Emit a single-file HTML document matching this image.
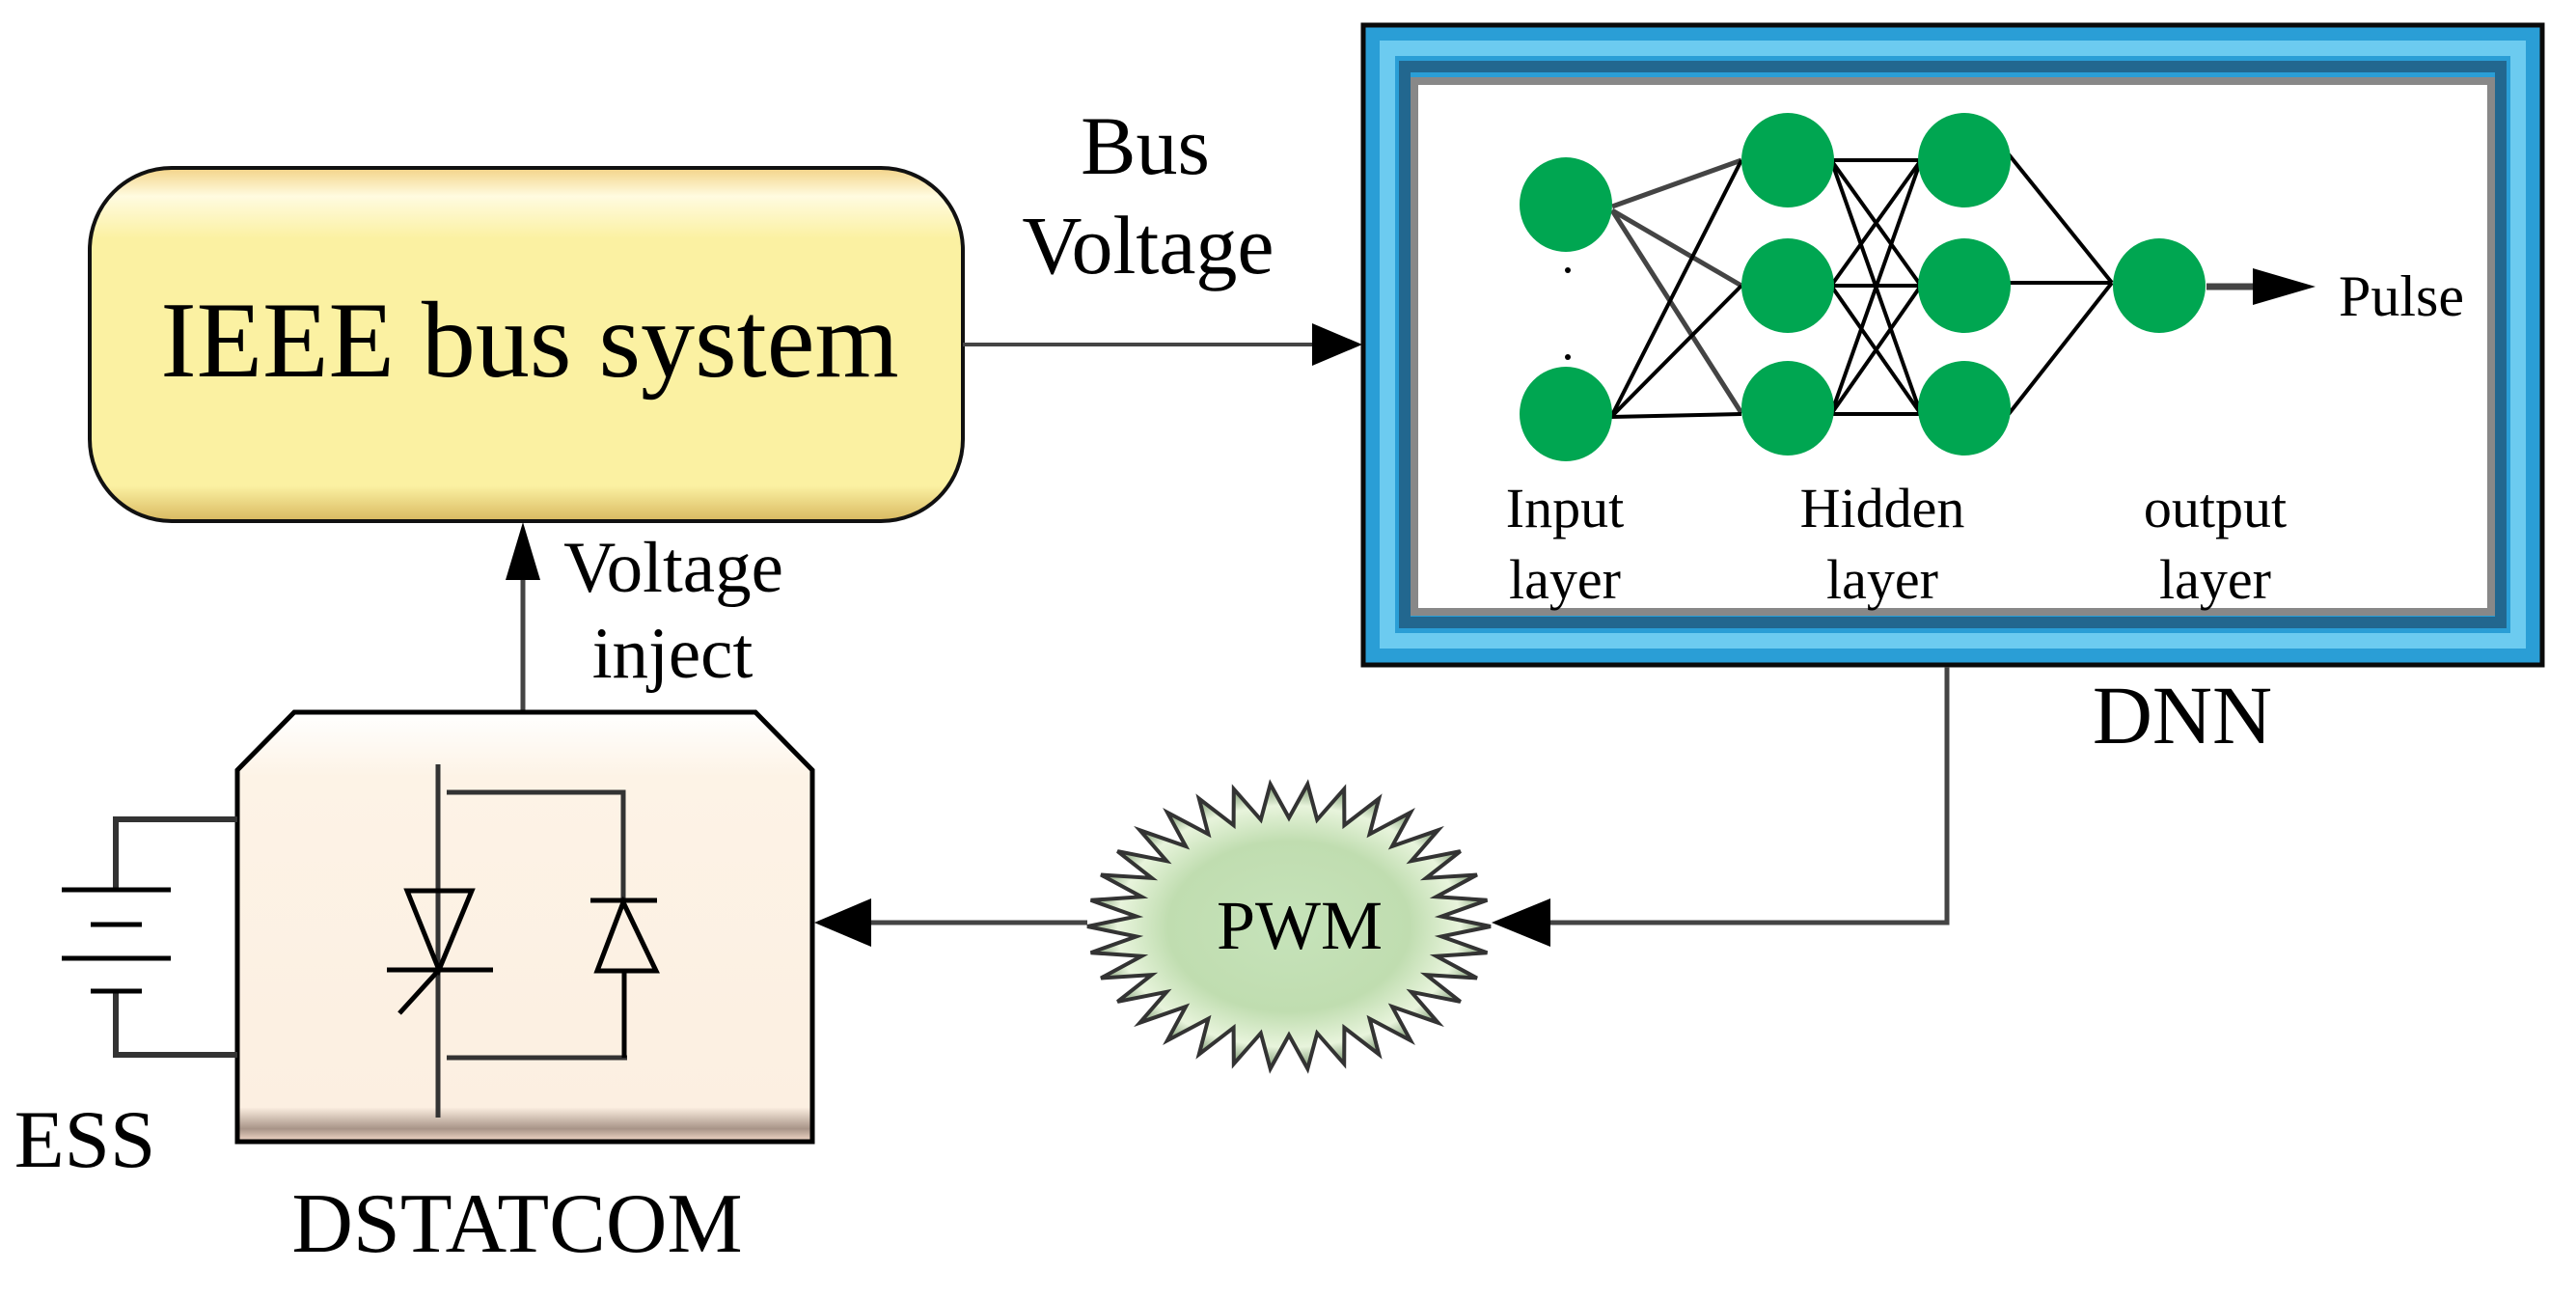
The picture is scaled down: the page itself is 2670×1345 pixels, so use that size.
<!DOCTYPE html>
<html><head><meta charset="utf-8">
<style>
html,body{margin:0;padding:0;background:#fff;}
svg{display:block;}
text{font-family:"Liberation Serif",serif;fill:#000;}
</style></head>
<body>
<svg width="2670" height="1345" viewBox="0 0 2670 1345" xmlns="http://www.w3.org/2000/svg">
<defs>
<linearGradient id="yel" x1="0" y1="0" x2="0" y2="1">
<stop offset="0" stop-color="#f3d387"/>
<stop offset="0.08" stop-color="#fffbe0"/>
<stop offset="0.2" stop-color="#fbf1a2"/>
<stop offset="0.9" stop-color="#fbf1a2"/>
<stop offset="1" stop-color="#d8b860"/>
</linearGradient>
<linearGradient id="peach" x1="0" y1="0" x2="0" y2="1">
<stop offset="0" stop-color="#fff"/>
<stop offset="0.15" stop-color="#fdf3e6"/>
<stop offset="0.92" stop-color="#fcefe1"/>
<stop offset="0.97" stop-color="#a89488"/>
<stop offset="1" stop-color="#f6dccb"/>
</linearGradient>
<radialGradient id="grn" cx="0.5" cy="0.5" r="0.5">
<stop offset="0" stop-color="#c6e3ba"/>
<stop offset="0.6" stop-color="#c0ddb0"/>
<stop offset="0.85" stop-color="#e8f4dc"/>
<stop offset="1" stop-color="#7a9870"/>
</radialGradient>
</defs>

<rect x="93" y="174" width="905" height="366" rx="85" ry="85" fill="url(#yel)" stroke="#111" stroke-width="4"/>
<text x="549" y="390" font-size="112" text-anchor="middle">IEEE bus system</text>

<line x1="998" y1="357" x2="1370" y2="357" stroke="#444" stroke-width="4"/>
<polygon points="1360,335 1412,357 1360,379" fill="#000"/>
<text x="1187" y="180" font-size="86" text-anchor="middle">Bus</text>
<text x="1190" y="283" font-size="86" text-anchor="middle">Voltage</text>

<!-- DNN frame -->
<rect x="1413" y="26" width="1222" height="663" fill="#2a9ed6" stroke="#0a0a0a" stroke-width="5"/>
<rect x="1438" y="50" width="1172" height="614" fill="none" stroke="#6ccbf0" stroke-width="16"/>
<rect x="1456" y="69" width="1136" height="576" fill="none" stroke="#22678f" stroke-width="12"/>
<rect x="1466" y="84" width="1116" height="550" fill="#fff" stroke="#888" stroke-width="8"/>

<g stroke="#444" stroke-width="5">
<line x1="1671" y1="214" x2="1805" y2="166"/>
<line x1="1671" y1="218" x2="1805" y2="296"/>
<line x1="1671" y1="218" x2="1805" y2="428"/>
</g>
<g stroke="#000" stroke-width="4">
<line x1="1670" y1="432" x2="1805" y2="166"/>
<line x1="1670" y1="432" x2="1805" y2="296"/>
<line x1="1670" y1="432" x2="1805" y2="429"/>
<line x1="1898" y1="166" x2="1991" y2="166"/>
<line x1="1898" y1="166" x2="1991" y2="296"/>
<line x1="1898" y1="166" x2="1991" y2="429"/>
<line x1="1898" y1="296" x2="1991" y2="166"/>
<line x1="1898" y1="296" x2="1991" y2="296"/>
<line x1="1898" y1="296" x2="1991" y2="429"/>
<line x1="1898" y1="429" x2="1991" y2="166"/>
<line x1="1898" y1="429" x2="1991" y2="296"/>
<line x1="1898" y1="429" x2="1991" y2="429"/>
<line x1="2082" y1="160" x2="2189" y2="293"/>
<line x1="2082" y1="293" x2="2189" y2="293"/>
<line x1="2082" y1="429" x2="2189" y2="293"/>
</g>
<g fill="#00a651">
<ellipse cx="1623" cy="212" rx="48" ry="49"/>
<ellipse cx="1623" cy="429" rx="48" ry="49"/>
<ellipse cx="1853" cy="166" rx="48" ry="49"/>
<ellipse cx="1853" cy="296" rx="48" ry="49"/>
<ellipse cx="1853" cy="423" rx="48" ry="49"/>
<ellipse cx="2036" cy="166" rx="48" ry="49"/>
<ellipse cx="2036" cy="296" rx="48" ry="49"/>
<ellipse cx="2036" cy="423" rx="48" ry="49"/>
<ellipse cx="2238" cy="296" rx="48" ry="49"/>
</g>
<circle cx="1625" cy="280" r="3" fill="#000"/>
<circle cx="1625" cy="370" r="3" fill="#000"/>
<line x1="2287" y1="297" x2="2340" y2="297" stroke="#444" stroke-width="7"/>
<polygon points="2335,278 2400,297 2335,316" fill="#000"/>
<text x="2424" y="327" font-size="60">Pulse</text>
<text x="1622" y="546" font-size="58" text-anchor="middle">Input</text>
<text x="1622" y="620" font-size="58" text-anchor="middle">layer</text>
<text x="1951" y="546" font-size="58" text-anchor="middle">Hidden</text>
<text x="1951" y="620" font-size="58" text-anchor="middle">layer</text>
<text x="2296" y="546" font-size="58" text-anchor="middle">output</text>
<text x="2296" y="620" font-size="58" text-anchor="middle">layer</text>
<text x="2262" y="770" font-size="86" text-anchor="middle">DNN</text>

<polyline points="2018,691 2018,956 1600,956" fill="none" stroke="#444" stroke-width="5"/>
<polygon points="1607,931 1546,956 1607,981" fill="#000"/>

<polygon id="star" fill="url(#grn)" stroke="#333" stroke-width="4" points=""/>
<text x="1347" y="983" font-size="72" text-anchor="middle">PWM</text>

<line x1="1127" y1="956" x2="895" y2="956" stroke="#444" stroke-width="5"/>
<polygon points="903,931 844,956 903,981" fill="#000"/>

<line x1="542" y1="736" x2="542" y2="595" stroke="#444" stroke-width="5"/>
<polygon points="524,601 542,541 560,601" fill="#000"/>
<text x="698" y="613" font-size="75" text-anchor="middle">Voltage</text>
<text x="697" y="702" font-size="75" text-anchor="middle">inject</text>

<polygon points="246,798 305,738 783,738 842,798 842,1183 246,1183" fill="url(#peach)" stroke="#000" stroke-width="5"/>
<g stroke="#333" stroke-width="5" fill="none">
<line x1="454" y1="792" x2="454" y2="1158"/>
<polyline points="463,821 646,821 646,933"/>
<polyline points="463,1096 650,1096"/>
</g>
<g stroke="#000" stroke-width="5" fill="none">
<polygon points="422,923 489,923 455,1005"/>
<line x1="401" y1="1005" x2="511" y2="1005"/>
<line x1="455" y1="1005" x2="414" y2="1050"/>
<line x1="612" y1="933" x2="681" y2="933"/>
<polygon points="646,935 619,1006 680,1006"/>
<line x1="647" y1="1006" x2="647" y2="1096"/>
</g>

<g stroke="#333" stroke-width="6" fill="none">
<polyline points="246,849 120,849 120,922"/>
<polyline points="120,1027 120,1093 246,1093"/>
</g>
<g stroke="#000" stroke-width="5">
<line x1="64" y1="922" x2="177" y2="922"/>
<line x1="94" y1="958" x2="147" y2="958"/>
<line x1="64" y1="993" x2="177" y2="993"/>
<line x1="94" y1="1027" x2="147" y2="1027"/>
</g>
<text x="88" y="1209" font-size="85" text-anchor="middle">ESS</text>
<text x="536" y="1297" font-size="88" text-anchor="middle">DSTATCOM</text>

<script>
(function(){
var cx=1336,cy=960,n=34,pts=[];
for(var i=0;i<2*n;i++){
 var a=Math.PI*i/n;
 var f=(i%2==0)?1:0.76;
 pts.push((cx+209*f*Math.cos(a)).toFixed(1)+","+(cy+148*f*Math.sin(a)).toFixed(1));
}
document.getElementById("star").setAttribute("points",pts.join(" "));
})();
</script>
</svg>
</body></html>
